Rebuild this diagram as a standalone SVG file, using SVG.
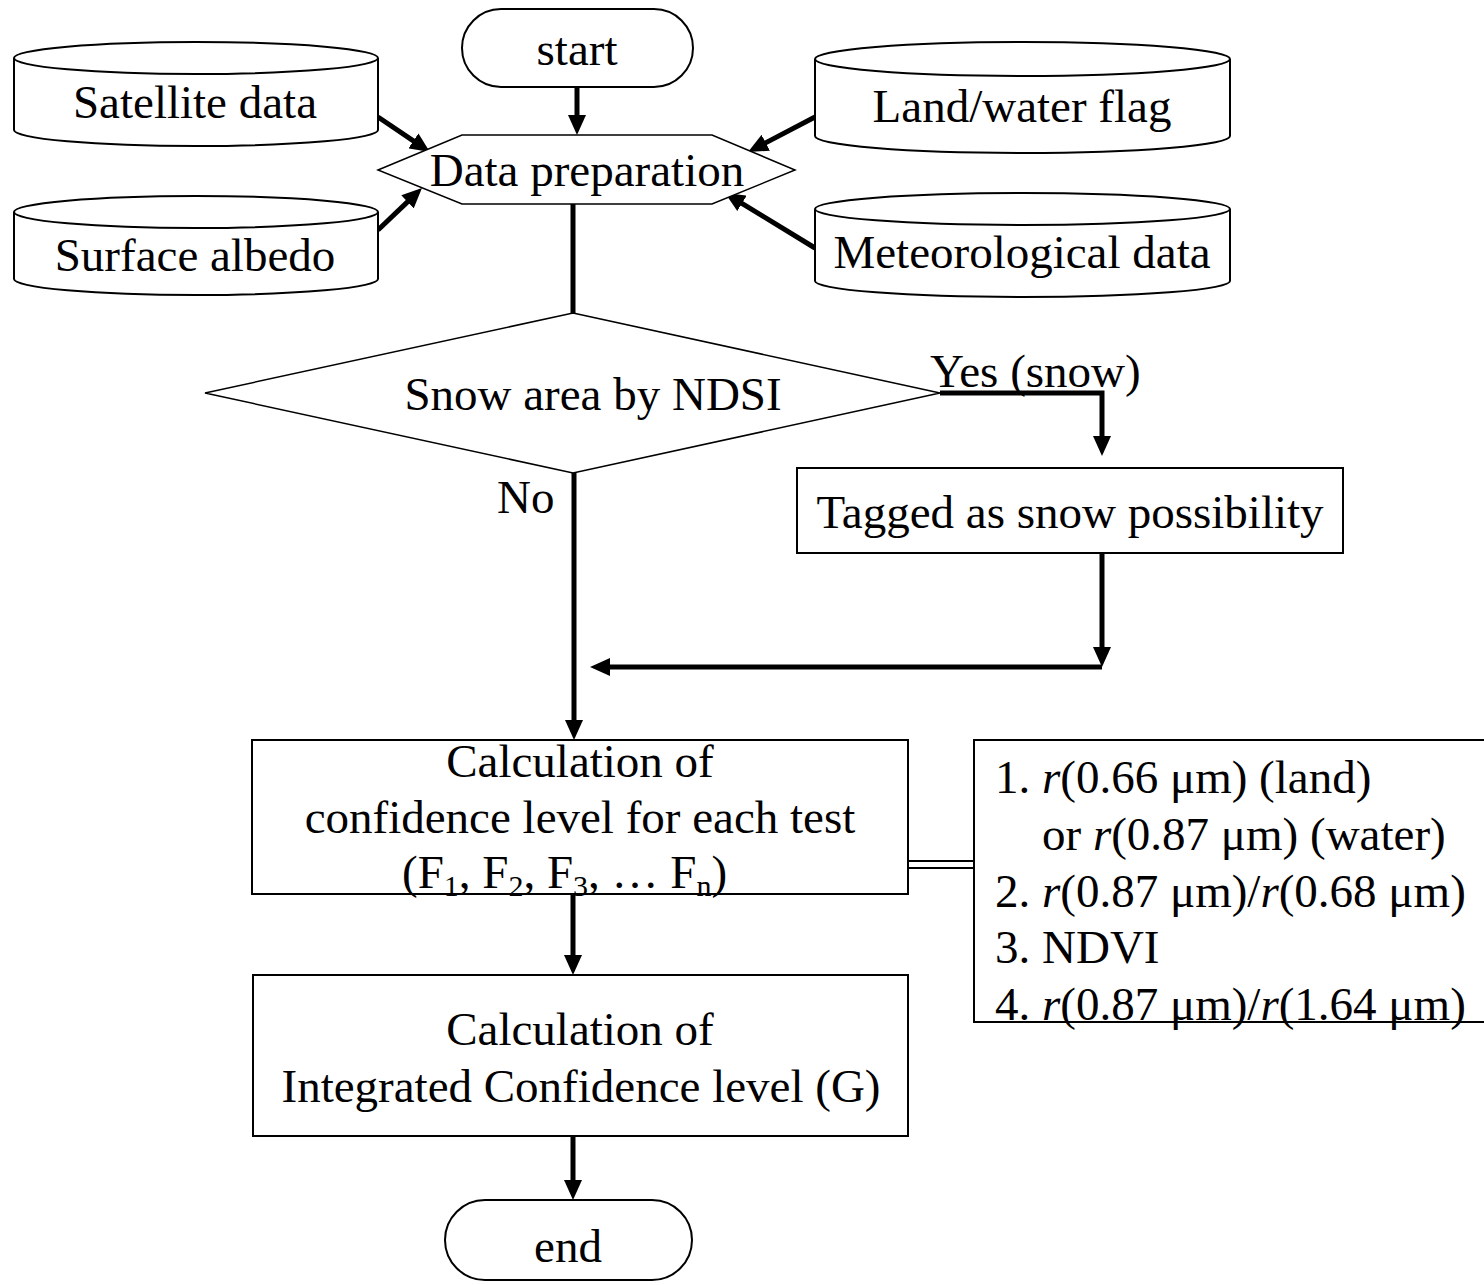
<svg xmlns="http://www.w3.org/2000/svg" width="1484" height="1285" viewBox="0 0 1484 1285">
<style>
  .shape { fill: #ffffff; stroke: #000000; stroke-width: 2; }
  .thin { fill: #ffffff; stroke: #000000; stroke-width: 1.5; }
  .t { font-family: "Liberation Serif", "Times New Roman", serif; font-size: 47px; fill: #000000; }
  .c { text-anchor: middle; }
  .conn { fill: none; stroke: #000000; stroke-width: 5; }
  .dbl { fill: none; stroke: #000000; stroke-width: 2; }
</style>
<defs>
  <marker id="ah" markerUnits="userSpaceOnUse" markerWidth="20" markerHeight="18" refX="4" refY="9" orient="auto">
    <path d="M0,0 L20,9 L0,18 z" fill="#000000"/>
  </marker>
</defs>
<rect width="1484" height="1285" fill="#ffffff"/>

<g id="connectors">
  <line class="conn" x1="577" y1="87" x2="577" y2="119" marker-end="url(#ah)"/>
  <line class="conn" x1="378" y1="117" x2="416.7" y2="143.1" marker-end="url(#ah)"/>
  <line class="conn" x1="378" y1="230" x2="410.4" y2="199.1" marker-end="url(#ah)"/>
  <line class="conn" x1="815" y1="117" x2="762.2" y2="144.6" marker-end="url(#ah)"/>
  <line class="conn" x1="815" y1="248" x2="738.6" y2="201.3" marker-end="url(#ah)"/>
  <line class="conn" x1="573" y1="204" x2="573" y2="313"/>
  <polyline class="conn" points="940,393 1102,393 1102,440" marker-end="url(#ah)"/>
  <line class="conn" x1="1102" y1="553" x2="1102" y2="651" marker-end="url(#ah)"/>
  <line class="conn" x1="1102" y1="667" x2="606" y2="667" marker-end="url(#ah)"/>
  <line class="conn" x1="574" y1="473" x2="574" y2="724" marker-end="url(#ah)"/>
  <line class="conn" x1="573" y1="894" x2="573" y2="959" marker-end="url(#ah)"/>
  <line class="conn" x1="573" y1="1136" x2="573" y2="1184" marker-end="url(#ah)"/>
  <line class="dbl" x1="908" y1="861" x2="974" y2="861"/>
  <line class="dbl" x1="908" y1="868" x2="974" y2="868"/>
</g>

<g id="start">
  <rect class="shape" x="462" y="9" width="231" height="78" rx="39" ry="39"/>
  <text class="t c" x="577" y="65">start</text>
</g>

<g id="satellite">
  <path class="shape" d="M14,58 L14,130 A182,16 0 0 0 378,130 L378,58"/>
  <ellipse class="shape" cx="196" cy="58" rx="182" ry="16"/>
  <text class="t c" x="195" y="118">Satellite data</text>
</g>

<g id="albedo">
  <path class="shape" d="M14,212 L14,279 A182,16 0 0 0 378,279 L378,212"/>
  <ellipse class="shape" cx="196" cy="212" rx="182" ry="16"/>
  <text class="t c" x="195" y="271">Surface albedo</text>
</g>

<g id="landwater">
  <path class="shape" d="M815,59 L815,136 A207.5,17 0 0 0 1230,136 L1230,59"/>
  <ellipse class="shape" cx="1022.5" cy="59" rx="207.5" ry="17"/>
  <text class="t c" x="1022" y="122">Land/water flag</text>
</g>

<g id="meteo">
  <path class="shape" d="M815,209 L815,281 A207.5,16 0 0 0 1230,281 L1230,209"/>
  <ellipse class="shape" cx="1022.5" cy="209" rx="207.5" ry="16"/>
  <text class="t c" x="1022" y="268">Meteorological data</text>
</g>

<g id="prep">
  <polygon class="thin" points="378,170 462,135 712,135 795,170 712,204 462,204"/>
  <text class="t c" x="587" y="186">Data preparation</text>
</g>

<g id="ndsi">
  <polygon class="thin" points="573,313 940,393 573,473 205,393"/>
  <text class="t c" x="593" y="410">Snow area by NDSI</text>
</g>

<g id="labels">
  <text class="t" x="930" y="387">Yes (snow)</text>
  <text class="t" x="497" y="513">No</text>
</g>

<g id="tagged">
  <rect class="shape" x="797" y="468" width="546" height="85"/>
  <text class="t c" x="1070" y="528">Tagged as snow possibility</text>
</g>

<g id="calc1">
  <rect class="shape" x="252" y="740" width="656" height="154"/>
  <text class="t c" x="580" y="777">Calculation of</text>
  <text class="t c" x="580" y="833">confidence level for each test</text>
  <text class="t" x="402" y="888">(F<tspan font-size="30" dy="8">1</tspan><tspan dy="-8">, F</tspan><tspan font-size="30" dy="8">2</tspan><tspan dy="-8">, F</tspan><tspan font-size="30" dy="8">3</tspan><tspan dy="-8">, …  F</tspan><tspan font-size="30" dy="8">n</tspan><tspan dy="-8">)</tspan></text>
</g>

<g id="tests">
  <rect class="shape" x="974" y="740" width="520" height="282"/>
  <text class="t" x="995" y="793">1. <tspan font-style="italic">r</tspan>(0.66 μm) (land)</text>
  <text class="t" x="1042" y="850">or <tspan font-style="italic">r</tspan>(0.87 μm) (water)</text>
  <text class="t" x="995" y="907">2. <tspan font-style="italic">r</tspan>(0.87 μm)/<tspan font-style="italic">r</tspan>(0.68 μm)</text>
  <text class="t" x="995" y="963">3. NDVI</text>
  <text class="t" x="995" y="1020">4. <tspan font-style="italic">r</tspan>(0.87 μm)/<tspan font-style="italic">r</tspan>(1.64 μm)</text>
</g>

<g id="calc2">
  <rect class="shape" x="253" y="975" width="655" height="161"/>
  <text class="t c" x="580" y="1045">Calculation of</text>
  <text class="t c" x="581" y="1102">Integrated Confidence level (G)</text>
</g>

<g id="end">
  <rect class="shape" x="445" y="1200" width="247" height="80" rx="40" ry="40"/>
  <text class="t c" x="568" y="1262">end</text>
</g>
</svg>
